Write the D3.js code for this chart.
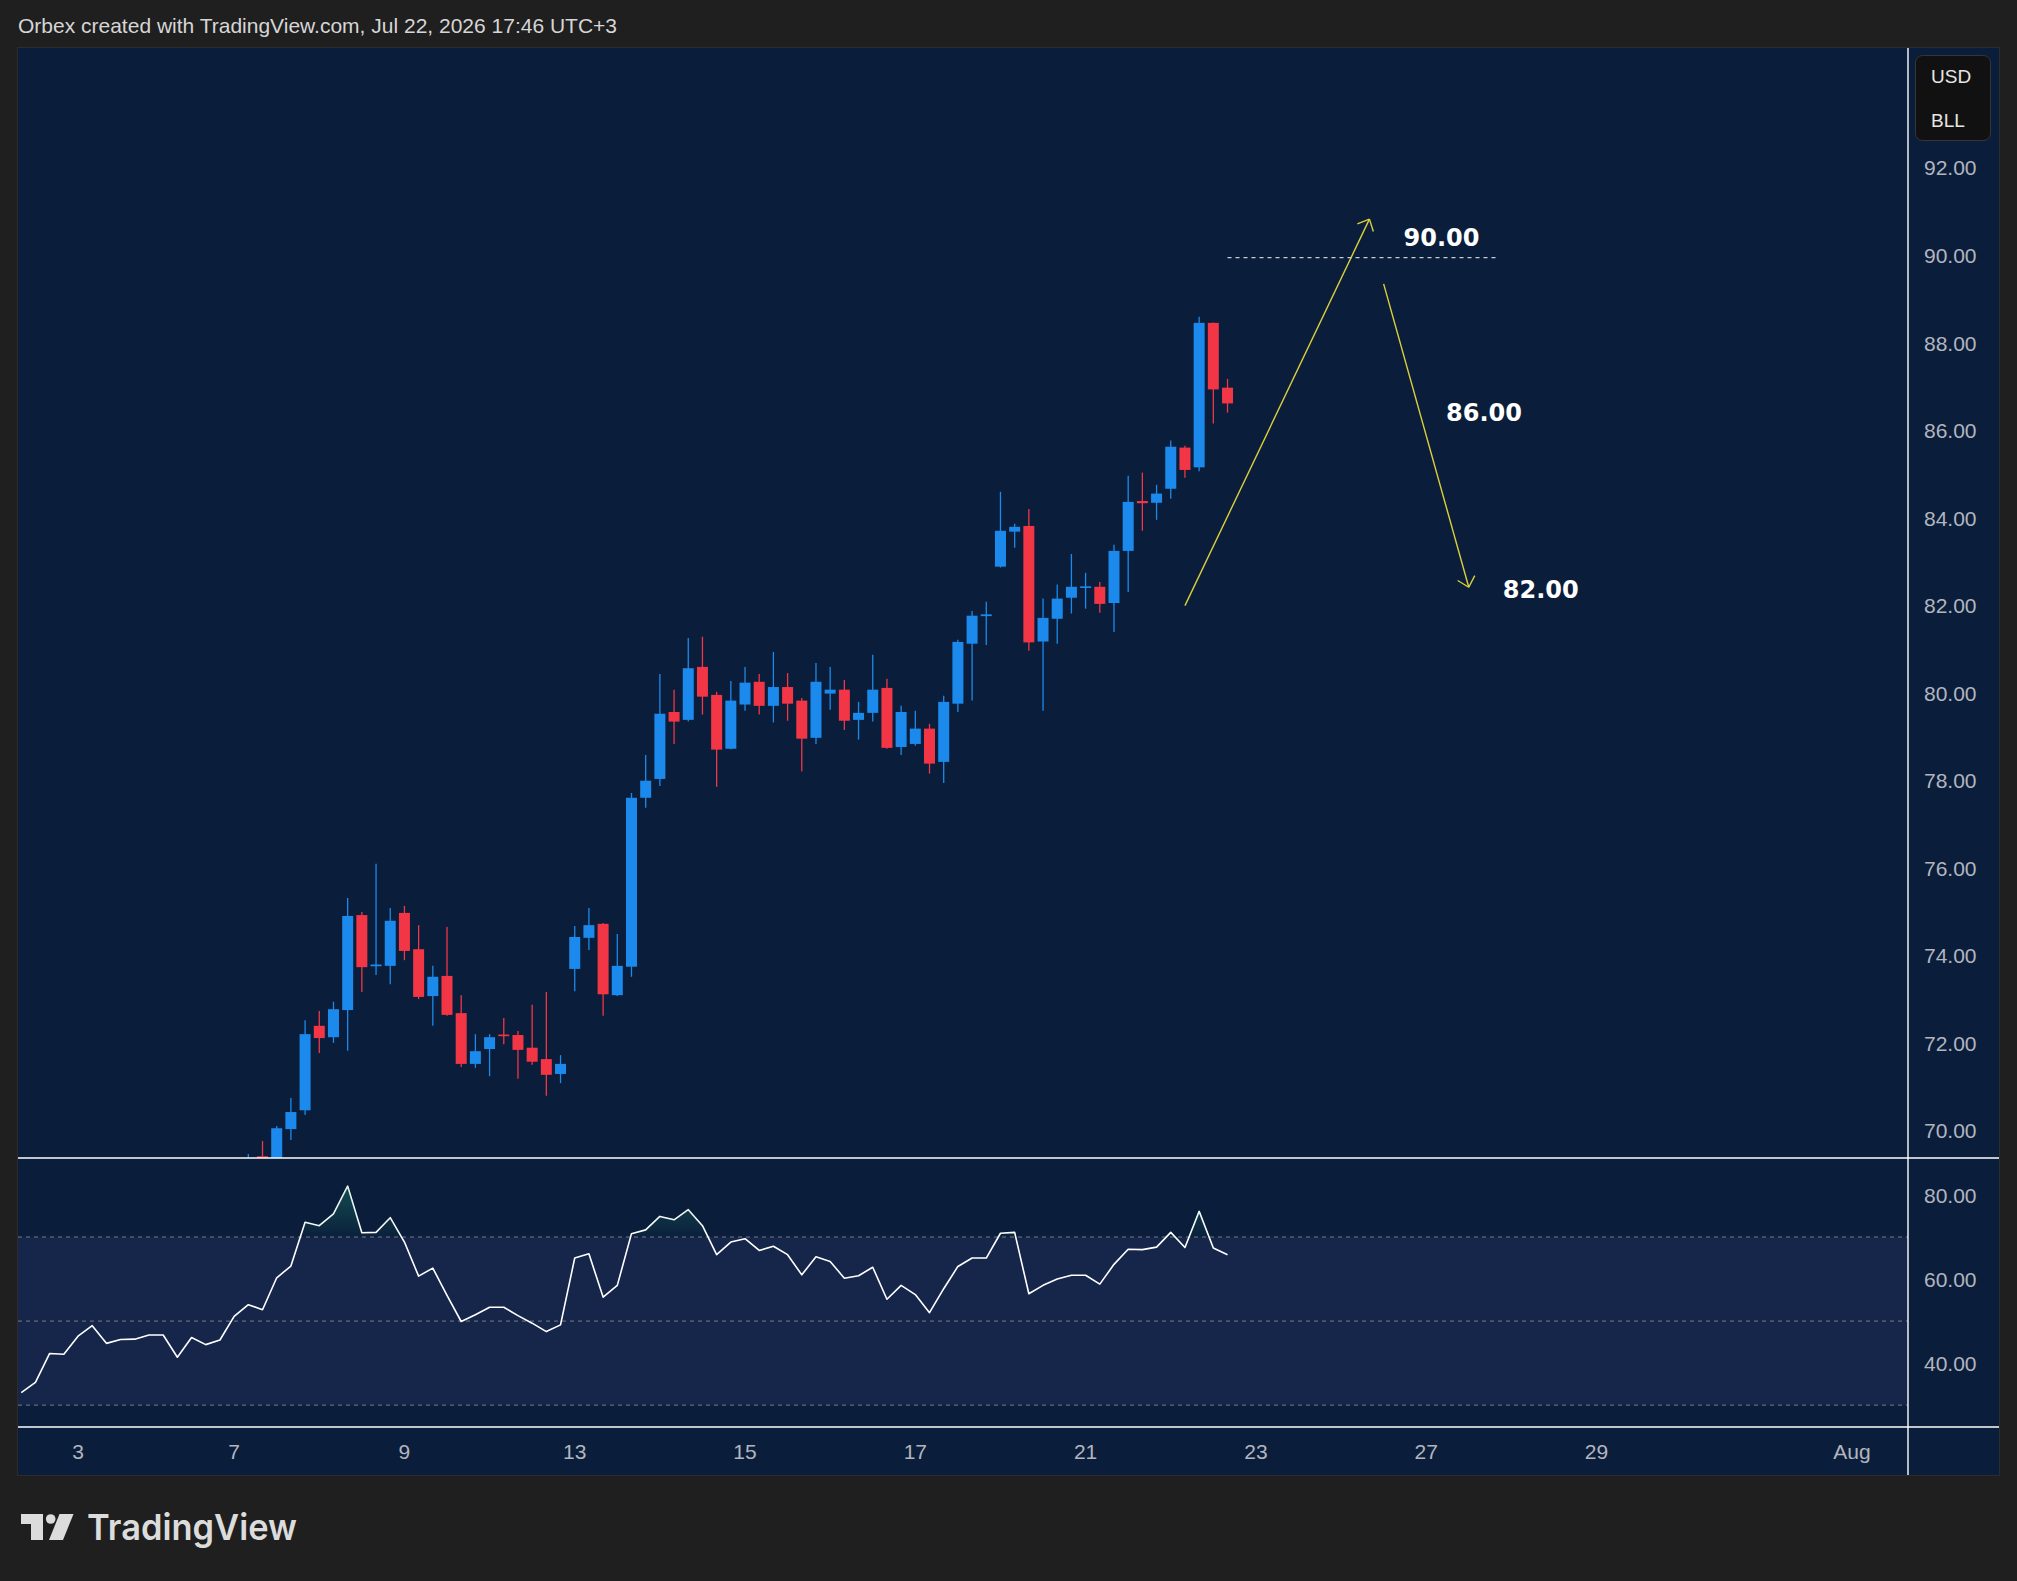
<!DOCTYPE html>
<html>
<head>
<meta charset="utf-8">
<script src="https://cdn.jsdelivr.net/npm/d3@7"></script>
<style>
  html, body { margin: 0; padding: 0; background: #1f1f1f; }
  svg { display: block; }
</style>
</head>
<body>
<svg id="chart"></svg>
<script>
// bar numbers count from the left edge of the visible range,
// the first candle that shows in the price pane is bar 16
var FIRST_BAR = 16;

var opens = [69.10, 69.42, 69.25, 70.04, 70.47, 72.40, 72.14, 72.76, 74.93, 73.76,
             73.77, 74.98, 74.15, 73.08, 73.54, 72.69, 71.53, 71.87, 72.20, 72.19,
             71.90, 71.64, 71.30, 73.70, 74.41, 74.73, 73.10, 73.75, 77.61, 78.04,
             79.57, 79.39, 80.60, 79.96, 78.73, 79.74, 80.26, 79.71, 80.14, 79.83,
             78.98, 79.99, 80.08, 79.39, 79.55, 80.12, 78.77, 78.84, 79.19, 78.43,
             79.76, 81.13, 81.76, 82.89, 83.69, 83.82, 81.18, 81.70, 82.18, 82.42,
             82.43, 82.06, 83.25, 84.39, 84.35, 84.67, 85.61, 85.16, 88.46, 86.98];
var highs = [69.47, 69.77, 70.11, 70.75, 72.53, 72.74, 72.95, 75.32, 75.00, 76.10,
             75.09, 75.14, 74.70, 73.77, 74.66, 73.10, 72.21, 72.21, 72.58, 72.28,
             72.88, 73.17, 71.73, 74.68, 75.09, 74.75, 74.50, 77.72, 78.59, 80.44,
             80.08, 81.26, 81.29, 80.03, 80.28, 80.60, 80.44, 80.94, 80.46, 79.89,
             80.69, 80.60, 80.30, 79.80, 80.88, 80.33, 79.71, 79.60, 79.30, 79.94,
             81.22, 81.88, 82.09, 84.60, 83.87, 84.21, 82.16, 82.48, 83.18, 82.75,
             82.54, 83.39, 84.97, 85.04, 84.76, 85.77, 85.65, 88.60, 88.47, 87.18];
var lows = [68.90, 69.00, 69.15, 69.79, 70.36, 71.78, 72.01, 71.83, 73.17, 73.56,
            73.35, 73.90, 73.01, 72.40, 72.63, 71.46, 71.44, 71.25, 71.98, 71.19,
            71.51, 70.80, 71.09, 73.19, 74.13, 72.63, 73.08, 73.52, 77.38, 77.88,
            78.84, 79.35, 79.51, 77.86, 78.72, 79.60, 79.51, 79.33, 79.37, 78.21,
            78.84, 79.62, 79.16, 78.94, 79.35, 78.73, 78.59, 78.80, 78.16, 77.95,
            79.57, 79.83, 81.10, 82.87, 83.32, 80.97, 79.60, 81.13, 81.82, 81.93,
            81.84, 81.40, 82.31, 83.71, 83.96, 84.44, 84.92, 85.07, 86.16, 86.41];
var closes = [69.30, 69.20, 70.06, 70.43, 72.21, 72.12, 72.78, 74.91, 73.74, 73.80,
              74.80, 74.11, 73.06, 73.52, 72.65, 71.53, 71.82, 72.14, 72.18, 71.85,
              71.58, 71.28, 71.53, 74.43, 74.70, 73.12, 73.77, 77.61, 78.00, 79.53,
              79.35, 80.57, 79.92, 78.71, 79.83, 80.24, 79.71, 80.14, 79.76, 78.96,
              80.26, 80.08, 79.37, 79.55, 80.08, 78.75, 79.57, 79.19, 78.39, 79.80,
              81.17, 81.77, 81.80, 83.71, 83.80, 81.16, 81.72, 82.16, 82.43, 82.44,
              82.04, 83.25, 84.37, 84.34, 84.56, 85.63, 85.10, 88.46, 86.94, 86.62];

// RSI, one value per bar from bar 0
var rsi = [33.0, 35.4, 42.3, 42.1, 46.4, 48.9, 44.7, 45.6, 45.7, 46.7,
           46.7, 41.4, 46.1, 44.4, 45.5, 51.1, 53.9, 52.7, 60.3, 63.1,
           73.5, 72.7, 75.5, 82.1, 71.0, 71.1, 74.6, 68.8, 60.7, 62.6,
           56.1, 49.9, 51.5, 53.3, 53.3, 51.3, 49.5, 47.5, 49.1, 65.0,
           66.0, 55.7, 58.5, 70.8, 71.7, 74.9, 74.1, 76.5, 72.7, 65.8,
           68.8, 69.6, 66.8, 67.8, 65.8, 61.0, 65.3, 64.2, 60.2, 60.8,
           62.8, 55.2, 58.5, 56.3, 52.0, 57.7, 63.0, 65.0, 65.0, 70.9,
           71.1, 56.5, 58.5, 60.0, 60.9, 60.9, 58.8, 63.5, 67.1, 67.0,
           67.6, 71.1, 67.5, 76.1, 67.4, 65.8];

var priceTicks = [70, 72, 74, 76, 78, 80, 82, 84, 86, 88, 90, 92];
var rsiTicks = [40, 60, 80];
var rsiLevels = [70, 50, 30];
var dayTickBars = [4, 15, 27, 39, 51, 63, 75, 87, 99, 111, 129];
var dayTickLabels = ["3", "7", "9", "13", "15", "17", "21", "23", "27", "29", "Aug"];

// drawings: [bar, price]
var upArrow = [[82, 82.0], [95, 90.83]];
var downArrow = [[96, 89.35], [102, 82.42]];
var targetLine = [[85, 89.95], [104, 89.95]];
var targetBars = [97.4, 100.4, 104.4];
var targetPrices = [90.42, 86.42, 82.38];
var targetTexts = ["90.00", "86.00", "82.00"];

var width = 2017, height = 1581;
var padLeft = 18, padTop = 48, padRight = 1999, padBottom = 1475;
var plotRight = 1908, mainBottom = 1158, rsiBottom = 1427;

var upColor = "#1b8aec", downColor = "#f23645";
var bg = "#0a1e3b";
var font = "'Liberation Sans', Arial, sans-serif";

var x = d3.scaleLinear().domain([-0.23, 132.95]).range([padLeft, plotRight]);
var y = d3.scaleLinear().domain([69.38, 94.74]).range([mainBottom, padTop]);
var yR = d3.scaleLinear().domain([24.8, 88.8]).range([rsiBottom, mainBottom]);

var svg = d3.select("#chart").attr("width", width).attr("height", height);

svg.append("rect").attr("width", width).attr("height", height).attr("fill", "#1f1f1f");

svg.append("text")
    .attr("x", padLeft).attr("y", 33)
    .attr("fill", "#d6d6d6").style("font", "21px " + font)
    .text("Orbex created with TradingView.com, Jul 22, 2026 17:46 UTC+3");

svg.append("rect")
    .attr("x", padLeft - 0.5).attr("y", padTop - 0.5)
    .attr("width", padRight - padLeft + 1).attr("height", padBottom - padTop + 1)
    .attr("fill", bg).attr("stroke", "#2c2c2c");

var defs = svg.append("defs");
defs.append("clipPath").attr("id", "clipMain").append("rect")
    .attr("x", padLeft).attr("y", padTop).attr("width", plotRight - padLeft).attr("height", mainBottom - padTop);
defs.append("clipPath").attr("id", "clipRsi").append("rect")
    .attr("x", padLeft).attr("y", mainBottom).attr("width", plotRight - padLeft).attr("height", rsiBottom - mainBottom);
defs.append("clipPath").attr("id", "clipOb").append("rect")
    .attr("x", padLeft).attr("y", mainBottom).attr("width", plotRight - padLeft).attr("height", yR(70) - mainBottom);
var grad = defs.append("linearGradient").attr("id", "obFill")
    .attr("gradientUnits", "userSpaceOnUse")
    .attr("x1", 0).attr("x2", 0).attr("y1", yR(84)).attr("y2", yR(70));
grad.append("stop").attr("offset", 0).attr("stop-color", "rgb(38,166,120)").attr("stop-opacity", 0.38);
grad.append("stop").attr("offset", 1).attr("stop-color", "rgb(38,166,120)").attr("stop-opacity", 0.02);

// ---- candles
var candles = opens.map(function(o, i) {
  return { bar: FIRST_BAR + i, o: o, h: highs[i], l: lows[i], c: closes[i] };
});

var main = svg.append("g").attr("clip-path", "url(#clipMain)");
var bodyW = 11;

var cg = main.selectAll("g.candle").data(candles).enter().append("g")
    .attr("fill", function(d) { return d.c >= d.o ? upColor : downColor; })
    .attr("stroke", function(d) { return d.c >= d.o ? upColor : downColor; });

cg.append("line")
    .attr("x1", function(d) { return x(d.bar); })
    .attr("x2", function(d) { return x(d.bar); })
    .attr("y1", function(d) { return y(d.h); })
    .attr("y2", function(d) { return y(d.l); })
    .attr("stroke-width", 1.3);

cg.append("rect")
    .attr("stroke", "none")
    .attr("x", function(d) { return x(d.bar) - bodyW / 2; })
    .attr("width", bodyW)
    .attr("y", function(d) { return y(Math.max(d.o, d.c)); })
    .attr("height", function(d) { return Math.max(1.6, Math.abs(y(d.o) - y(d.c))); });

// ---- drawings
var yellow = "#dccf3c";
var pt = function(p) { return [x(p[0]), y(p[1])]; };

function arrow(a) {
  var s = pt(a[0]), e = pt(a[1]);
  var ang = Math.atan2(s[1] - e[1], s[0] - e[0]);
  var len = 13, spread = 43 * Math.PI / 180;
  var g = main.append("g").attr("stroke", yellow).attr("stroke-width", 1.4).attr("fill", "none");
  g.append("line").attr("x1", s[0]).attr("y1", s[1]).attr("x2", e[0]).attr("y2", e[1]);
  [-spread, spread].forEach(function(sp) {
    g.append("line").attr("x1", e[0]).attr("y1", e[1])
        .attr("x2", e[0] + len * Math.cos(ang + sp))
        .attr("y2", e[1] + len * Math.sin(ang + sp));
  });
}
arrow(upArrow);
arrow(downArrow);

main.append("line")
    .attr("x1", pt(targetLine[0])[0]).attr("y1", pt(targetLine[0])[1])
    .attr("x2", pt(targetLine[1])[0]).attr("y2", pt(targetLine[1])[1])
    .attr("stroke", "#c8cbd2").attr("stroke-width", 1.2).attr("stroke-dasharray", "4,4");

main.selectAll("text.target").data(targetTexts).enter().append("text")
    .attr("x", function(d, i) { return x(targetBars[i]); })
    .attr("y", function(d, i) { return y(targetPrices[i]); })
    .attr("dy", "0.36em")
    .attr("fill", "#ffffff")
    .style("font", "bold 24px 'DejaVu Sans', sans-serif")
    .text(function(d) { return d; });

// ---- RSI pane
var rsiG = svg.append("g").attr("clip-path", "url(#clipRsi)");
rsiG.append("rect")
    .attr("x", padLeft).attr("width", plotRight - padLeft)
    .attr("y", yR(70)).attr("height", yR(30) - yR(70))
    .attr("fill", "#16254a");

rsiG.selectAll("line.level").data(rsiLevels).enter().append("line")
    .attr("x1", padLeft).attr("x2", plotRight)
    .attr("y1", function(d) { return yR(d); })
    .attr("y2", function(d) { return yR(d); })
    .attr("stroke", "#787b86").attr("stroke-width", 1).attr("stroke-dasharray", "4,4");

var ob = svg.append("g").attr("clip-path", "url(#clipOb)");
ob.append("path").datum(rsi)
    .attr("d", d3.area()
        .x(function(d, i) { return x(i); })
        .y0(yR(70))
        .y1(function(d) { return yR(d); }))
    .attr("fill", "url(#obFill)");

rsiG.append("path").datum(rsi)
    .attr("d", d3.line().x(function(d, i) { return x(i); }).y(function(d) { return yR(d); }))
    .attr("fill", "none").attr("stroke", "#ffffff").attr("stroke-width", 1.6)
    .attr("stroke-linejoin", "round");

// ---- separators
var sep = svg.append("g").attr("stroke", "#ffffff").attr("stroke-width", 1.4);
sep.append("line").attr("x1", padLeft).attr("x2", padRight).attr("y1", mainBottom).attr("y2", mainBottom);
sep.append("line").attr("x1", padLeft).attr("x2", padRight).attr("y1", rsiBottom).attr("y2", rsiBottom);
sep.append("line").attr("x1", plotRight).attr("x2", plotRight).attr("y1", padTop).attr("y2", padBottom);

// ---- axes
var axisColor = "#b2b5be";
svg.append("g").selectAll("text").data(priceTicks).enter().append("text")
    .attr("x", 1924).attr("y", function(d) { return y(d); }).attr("dy", "0.36em")
    .attr("fill", axisColor).style("font", "21px " + font)
    .text(function(d) { return d3.format(".2f")(d); });

svg.append("g").selectAll("text").data(rsiTicks).enter().append("text")
    .attr("x", 1924).attr("y", function(d) { return yR(d); }).attr("dy", "0.36em")
    .attr("fill", axisColor).style("font", "21px " + font)
    .text(function(d) { return d3.format(".2f")(d); });

svg.append("g").selectAll("text").data(dayTickLabels).enter().append("text")
    .attr("x", function(d, i) { return x(dayTickBars[i]); })
    .attr("y", (rsiBottom + padBottom) / 2).attr("dy", "0.36em")
    .attr("text-anchor", "middle")
    .attr("fill", axisColor).style("font", "21px " + font)
    .text(function(d) { return d; });

// currency badge
svg.append("rect")
    .attr("x", 1915.5).attr("y", 55.5).attr("width", 75).attr("height", 85).attr("rx", 7)
    .attr("fill", "#111111").attr("stroke", "#363636");
svg.append("text").attr("x", 1931).attr("y", 83)
    .attr("fill", "#e6e6e6").style("font", "19px " + font).text("USD");
svg.append("text").attr("x", 1931).attr("y", 127)
    .attr("fill", "#e6e6e6").style("font", "19px " + font).text("BLL");

// ---- TradingView mark
var logo = svg.append("g").attr("fill", "#dcdcdc");
logo.append("path").attr("d", "M21,1514H43V1540H31V1524H21Z");
logo.append("circle").attr("cx", 50.7).attr("cy", 1519).attr("r", 4.8);
logo.append("path").attr("d", "M59.5,1514H73.5L63,1540H49Z");
logo.append("text").attr("x", 87).attr("y", 1540)
    .attr("textLength", 210).attr("lengthAdjust", "spacingAndGlyphs")
    .style("font", "600 36px Inter, sans-serif")
    .text("TradingView");
</script>
</body>
</html>
